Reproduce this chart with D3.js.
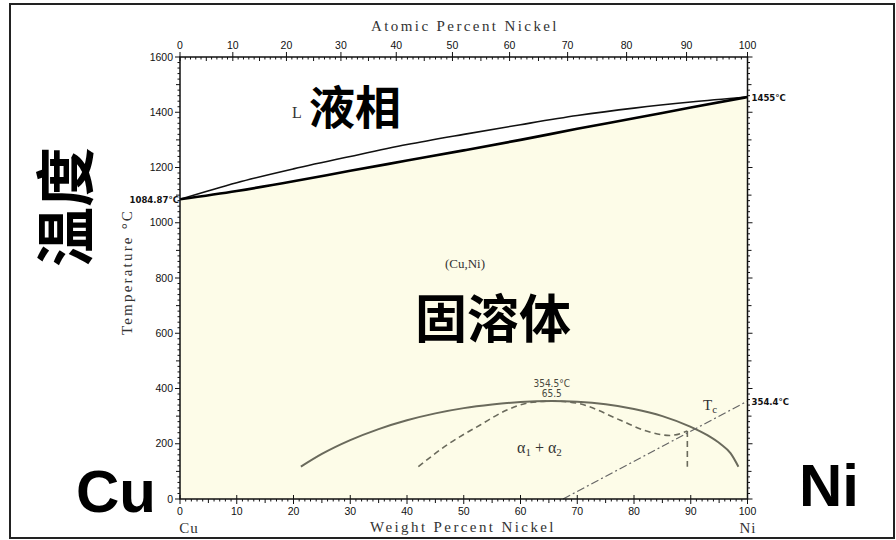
<!DOCTYPE html>
<html lang="zh">
<head>
<meta charset="UTF-8">
<title>Cu-Ni Phase Diagram</title>
<style>
    body { margin: 0; background: #fff; }
    .tick-label { font-family: "Liberation Sans", Arial, sans-serif; font-size: 10.5px; fill: #111; }
    .serif { font-family: "Liberation Serif", "DejaVu Serif", serif; fill: #333; }
    .note { font-family: "DejaVu Sans Condensed", "Liberation Sans", sans-serif; font-size: 9.5px; font-weight: bold; fill: #111; }
    .gapnote { font-family: "DejaVu Sans Condensed", "Liberation Sans", sans-serif; font-size: 10px; fill: #4a4a40; }
    .big { font-family: "Noto Sans CJK SC", sans-serif; font-weight: bold; fill: #000; }
    .latin { font-family: "Liberation Sans", Arial, sans-serif; font-weight: bold; fill: #000; }
</style>
</head>
<body>
<svg width="896" height="540"></svg>
<script src="https://d3js.org/d3.v7.min.js"></script>
<script>
    // liquidus / solidus, weight percent Ni vs temperature
    const liquidus = [[0,1084.87],[10,1145],[20,1195],[30,1240],[40,1283],[50,1320],[60,1355],[70,1388],[80,1415],[90,1437],[100,1455]];
    const solidus = [[0,1084.87],[10,1115],[20,1150],[30,1188],[40,1225],[50,1262],[60,1300],[70,1340],[80,1378],[90,1417],[100,1455]];
    // miscibility gap (solid) and spinodal (dashed)
    const gap = [[21.3,117],[25,163],[30,213],[35,253],[40,285],[45,310],[50,329],[55,342],[60,351],[65.5,354.5],[70,352],[75,343],[80,326],[85,300],[89.9,262],[93,230],[95.2,200],[97,166],[98.4,117]];
    const spinodal = [[42,117],[47,195],[52.9,268],[57.6,322],[61.7,349],[65.5,354.5],[69.9,347],[77.5,286],[82.2,246],[86.3,230],[89.4,246]];
    const spinodalDrop = [[89.4,246],[89.4,117]];
    const curie = [[67.5,0],[100,354.4]];

    const wtTicks = [0,10,20,30,40,50,60,70,80,90,100];
    const atTicks = [0,10,20,30,40,50,60,70,80,90,100];
    const tempTicks = [0,200,400,600,800,1000,1200,1400,1600];

    const svg = d3.select("svg");
    const x = d3.scaleLinear().domain([0,100]).range([180,747.5]);
    const y = d3.scaleLinear().domain([0,1600]).range([499,57]);
    const atToWt = a => 100 * a * 58.69 / (a * 58.69 + (100 - a) * 63.55);
    const xAt = a => x(atToWt(a));

    // outer frame
    svg.append("rect").attr("x",10).attr("y",4).attr("width",884).attr("height",534)
        .attr("fill","none").attr("stroke","#222").attr("stroke-width",2);

    // solid solution fill
    svg.append("path").datum(solidus)
        .attr("fill","#fdfce8")
        .attr("d", d3.area().x(d => x(d[0])).y0(y(0)).y1(d => y(d[1])).curve(d3.curveMonotoneX));

    const line = d3.line().x(d => x(d[0])).y(d => y(d[1]));

    svg.append("path").datum(liquidus).attr("fill","none").attr("stroke","#111").attr("stroke-width",1.6)
        .attr("d", line.curve(d3.curveMonotoneX));
    svg.append("path").datum(solidus).attr("fill","none").attr("stroke","#000").attr("stroke-width",2.6)
        .attr("d", line.curve(d3.curveMonotoneX));

    svg.append("path").datum(gap).attr("fill","none").attr("stroke","#6a6a5c").attr("stroke-width",2)
        .attr("d", line.curve(d3.curveMonotoneX));
    svg.append("path").datum(spinodal).attr("fill","none").attr("stroke","#6a6a5c").attr("stroke-width",1.6)
        .attr("stroke-dasharray","6,4").attr("d", line.curve(d3.curveMonotoneX));
    svg.append("path").datum(spinodalDrop).attr("fill","none").attr("stroke","#6a6a5c").attr("stroke-width",1.6)
        .attr("stroke-dasharray","6,4").attr("d", line.curve(d3.curveLinear));
    svg.append("path").datum(curie).attr("fill","none").attr("stroke","#666").attr("stroke-width",1.2)
        .attr("stroke-dasharray","8,3,2,3").attr("d", line.curve(d3.curveLinear));

    // plot box
    svg.append("rect").attr("x",x(0)).attr("y",y(1600)).attr("width",x(100)-x(0)).attr("height",y(0)-y(1600))
        .attr("fill","none").attr("stroke","#111").attr("stroke-width",1.5);

    const g = svg.append("g").attr("stroke","#111").attr("stroke-width",1);
    const tLen = d => d % 200 === 0 ? 5 : d % 100 === 0 ? 4 : 2.5;

    // left & right ticks
    const tMinor = d3.range(0,1601,20);
    g.selectAll(".lm").data(tMinor).join("line")
        .attr("x1", x(0)).attr("x2", d => x(0) - tLen(d))
        .attr("y1", d => y(d)).attr("y2", d => y(d));
    g.selectAll(".rm").data(tMinor).join("line")
        .attr("x1", x(100)).attr("x2", d => x(100) + tLen(d))
        .attr("y1", d => y(d)).attr("y2", d => y(d));

    // bottom ticks
    const wMinor = d3.range(0,101,1);
    g.selectAll(".bm").data(wMinor).join("line")
        .attr("x1", d => x(d)).attr("x2", d => x(d))
        .attr("y1", d => y(0) - (d % 10 === 0 ? 4 : 0))
        .attr("y2", d => y(0) + (d % 10 === 0 ? 5 : d % 5 === 0 ? 4 : 2.5));

    // top ticks (atomic percent)
    const aMinor = d3.range(0,101,1);
    g.selectAll(".tm").data(aMinor).join("line")
        .attr("x1", d => xAt(d)).attr("x2", d => xAt(d))
        .attr("y1", d => y(1600) - (d % 10 === 0 ? 5 : 0))
        .attr("y2", d => y(1600) + (d % 10 === 0 ? 4 : d % 5 === 0 ? 4 : 2.5));

    // tick labels
    svg.selectAll(".yl").data(tempTicks).join("text").attr("class","tick-label")
        .attr("x", x(0) - 7).attr("y", d => y(d) + 3.5).attr("text-anchor","end").text(d => d);
    svg.selectAll(".xl").data(wtTicks).join("text").attr("class","tick-label")
        .attr("x", d => x(d)).attr("y", y(0) + 16).attr("text-anchor","middle").text(d => d);
    svg.selectAll(".al").data(atTicks).join("text").attr("class","tick-label")
        .attr("x", d => xAt(d)).attr("y", y(1600) - 8).attr("text-anchor","middle").text(d => d);

    // axis titles
    svg.append("text").attr("class","serif").attr("x",465).attr("y",31).attr("text-anchor","middle")
        .attr("font-size",15).attr("letter-spacing",2.4).text("Atomic Percent Nickel");
    svg.append("text").attr("class","serif").attr("x",463).attr("y",532).attr("text-anchor","middle")
        .attr("font-size",15).attr("letter-spacing",2.4).text("Weight Percent Nickel");
    svg.append("text").attr("class","serif").attr("transform","translate(132,272) rotate(-90)")
        .attr("text-anchor","middle").attr("font-size",15).attr("letter-spacing",2.2).text("Temperature °C");
    svg.append("text").attr("class","serif").attr("x",189).attr("y",533).attr("text-anchor","middle")
        .attr("font-size",15).attr("letter-spacing",1).text("Cu");
    svg.append("text").attr("class","serif").attr("x",748).attr("y",533).attr("text-anchor","middle")
        .attr("font-size",15).attr("letter-spacing",1).text("Ni");

    // point notes
    svg.append("text").attr("class","note").attr("x",x(0) - 1).attr("y",y(1084.87) + 4)
        .attr("text-anchor","end").text("1084.87°C");
    svg.append("text").attr("class","note").attr("x",x(100) + 4).attr("y",y(1455) + 3.5).text("1455°C");
    svg.append("text").attr("class","note").attr("x",x(100) + 4).attr("y",y(354.4) + 3.5).text("354.4°C");
    svg.append("text").attr("class","gapnote").attr("x",x(65.5)).attr("y",y(354.5) - 14)
        .attr("text-anchor","middle").text("354.5°C");
    svg.append("text").attr("class","gapnote").attr("x",x(65.5)).attr("y",y(354.5) - 4)
        .attr("text-anchor","middle").text("65.5");

    // phase labels
    svg.append("text").attr("class","serif").attr("x",465).attr("y",268).attr("text-anchor","middle")
        .attr("font-size",13).attr("fill","#777").text("(Cu,Ni)");
    svg.append("text").attr("class","serif").attr("x",292).attr("y",118).attr("font-size",16).attr("fill","#333").text("L");
    const tc = svg.append("text").attr("class","serif").attr("x",703).attr("y",410).attr("font-size",15).attr("fill","#555");
    tc.append("tspan").text("T");
    tc.append("tspan").attr("font-size",11).attr("dy",3).text("c");
    const al = svg.append("text").attr("class","serif").attr("x",517).attr("y",453).attr("font-size",16).attr("fill","#555");
    al.append("tspan").text("α");
    al.append("tspan").attr("font-size",11).attr("dy",3).text("1");
    al.append("tspan").attr("dy",-3).text("  +  α");
    al.append("tspan").attr("font-size",11).attr("dy",3).text("2");

    // big annotations
    svg.append("text").attr("class","big").attr("x",309).attr("y",124).attr("font-size",46).text("液相");
    svg.append("text").attr("class","big").attr("x",493).attr("y",338).attr("text-anchor","middle").attr("font-size",52).text("固溶体");
    svg.append("text").attr("class","big").attr("transform","translate(88,207) rotate(-90)")
        .attr("text-anchor","middle").attr("font-size",60).text("温度");
    svg.append("text").attr("class","latin").attr("x",76).attr("y",512).attr("font-size",60).text("Cu");
    svg.append("text").attr("class","latin").attr("x",799).attr("y",506).attr("font-size",60).text("Ni");
</script>
</body>
</html>
